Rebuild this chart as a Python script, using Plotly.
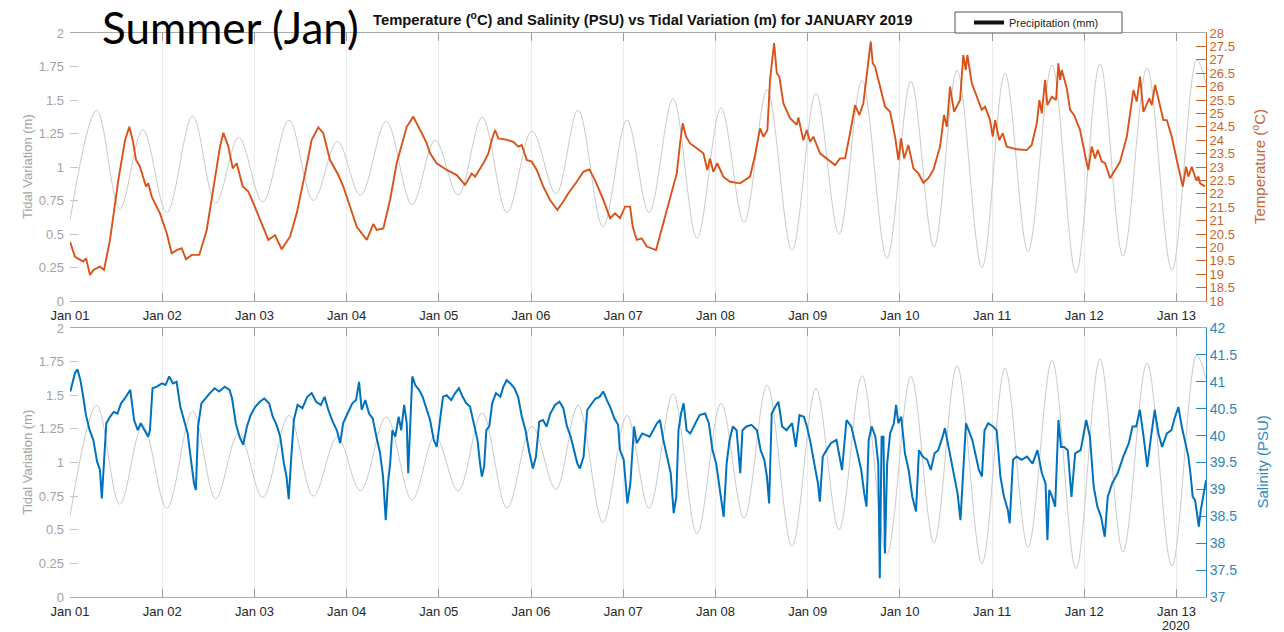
import pandas as pd
import plotly.graph_objects as go

START = pd.Timestamp("2020-01-01")

# Tide (m): successive high / low water, days after Jan 01 00:00
tide_day = [0.00, 0.29, 0.54, 0.79, 1.05, 1.33, 1.58, 1.83, 2.09, 2.375,
            2.64, 2.90, 3.15, 3.43, 3.71, 3.96, 4.21, 4.47, 4.74, 5.01,
            5.27, 5.51, 5.78, 6.04, 6.28, 6.54, 6.80, 7.06, 7.31, 7.56,
            7.83, 8.09, 8.34, 8.59, 8.86, 9.12, 9.37, 9.62, 9.89, 10.14,
            10.39, 10.65, 10.91, 11.17, 11.42, 11.68, 11.95, 12.22, 12.32]
tide_m = [0.60, 1.425, 0.69, 1.28, 0.66, 1.38, 0.73, 1.22, 0.74, 1.35,
          0.75, 1.19, 0.79, 1.34, 0.72, 1.20, 0.79, 1.37, 0.66, 1.27,
          0.80, 1.425, 0.555, 1.35, 0.66, 1.51, 0.47, 1.44, 0.585, 1.575,
          0.38, 1.55, 0.50, 1.645, 0.32, 1.64, 0.405, 1.72, 0.25, 1.70,
          0.37, 1.76, 0.21, 1.77, 0.335, 1.74, 0.23, 1.80, 1.62]

# Water temperature (deg C)
temp_day = [0.000, 0.054, 0.144, 0.174, 0.217, 0.253, 0.325, 0.369, 0.434, 0.524,
            0.597, 0.643, 0.680, 0.716, 0.759, 0.824, 0.849, 0.886, 0.976, 1.049,
            1.103, 1.157, 1.211, 1.258, 1.320, 1.402, 1.483, 1.554, 1.627, 1.663,
            1.717, 1.765, 1.808, 1.873, 1.934, 1.988, 2.061, 2.151, 2.223, 2.248,
            2.296, 2.386, 2.459, 2.549, 2.621, 2.693, 2.747, 2.820, 2.910, 2.964,
            3.037, 3.110, 3.218, 3.290, 3.326, 3.398, 3.471, 3.543, 3.652, 3.723,
            3.815, 3.869, 3.905, 3.977, 4.086, 4.194, 4.284, 4.357, 4.393, 4.483,
            4.537, 4.574, 4.610, 4.645, 4.718, 4.808, 4.862, 4.899, 4.953, 5.008,
            5.062, 5.133, 5.206, 5.285, 5.350, 5.405, 5.496, 5.567, 5.632, 5.694,
            5.784, 5.857, 5.911, 5.965, 6.020, 6.074, 6.103, 6.146, 6.201, 6.255,
            6.356, 6.435, 6.526, 6.580, 6.616, 6.645, 6.681, 6.725, 6.797, 6.869,
            6.912, 6.941, 6.977, 7.020, 7.085, 7.158, 7.267, 7.375, 7.430, 7.484,
            7.520, 7.563, 7.592, 7.636, 7.665, 7.693, 7.736, 7.809, 7.882, 7.899,
            7.953, 7.990, 8.026, 8.062, 8.134, 8.207, 8.297, 8.351, 8.406, 8.460,
            8.514, 8.561, 8.604, 8.658, 8.684, 8.706, 8.731, 8.785, 8.839, 8.894,
            8.948, 8.984, 9.013, 9.046, 9.092, 9.147, 9.201, 9.255, 9.309, 9.363,
            9.436, 9.479, 9.509, 9.544, 9.588, 9.653, 9.688, 9.715, 9.732, 9.780,
            9.834, 9.888, 9.924, 9.978, 10.007, 10.033, 10.079, 10.116, 10.159, 10.268,
            10.376, 10.430, 10.485, 10.513, 10.539, 10.575, 10.600, 10.648, 10.694, 10.719,
            10.738, 10.756, 10.810, 10.846, 10.889, 10.954, 11.020, 11.044, 11.081, 11.117,
            11.146, 11.190, 11.226, 11.280, 11.388, 11.461, 11.533, 11.569, 11.605, 11.641,
            11.706, 11.732, 11.768, 11.822, 11.858, 11.895, 11.949, 12.003, 12.068, 12.104,
            12.129, 12.166, 12.213, 12.238, 12.256, 12.310]
temp_c = [20.21, 19.65, 19.47, 19.59, 18.97, 19.16, 19.28, 19.16, 20.28, 22.51,
          24.00, 24.50, 24.00, 23.26, 23.01, 22.27, 22.39, 21.89, 21.27, 20.53,
          19.78, 19.90, 19.97, 19.56, 19.72, 19.72, 20.65, 22.27, 23.76, 24.28,
          23.76, 22.95, 23.14, 22.27, 22.08, 21.65, 21.02, 20.28, 20.46, 20.28,
          19.93, 20.40, 21.27, 22.76, 24.01, 24.48, 24.26, 23.26, 22.70, 22.27,
          21.52, 20.77, 20.28, 20.87, 20.65, 20.71, 21.77, 23.14, 24.50, 24.88,
          24.26, 23.88, 23.51, 23.14, 22.89, 22.70, 22.33, 22.76, 22.64, 23.14,
          23.51, 24.01, 24.38, 24.07, 24.03, 23.94, 23.76, 23.82, 23.26, 23.20,
          22.89, 22.27, 21.77, 21.40, 21.71, 22.02, 22.45, 22.82, 22.91, 22.51,
          21.77, 21.09, 21.27, 21.09, 21.52, 21.52, 20.77, 20.28, 20.34, 20.03,
          19.90, 20.90, 22.02, 22.76, 23.88, 24.63, 24.13, 23.88, 23.70, 23.51,
          22.89, 23.32, 22.82, 23.14, 22.64, 22.45, 22.39, 22.64, 23.45, 24.44,
          24.13, 24.38, 26.25, 27.62, 26.50, 26.37, 25.38, 24.82, 24.57, 24.85,
          24.00, 24.38, 23.94, 24.13, 23.51, 23.32, 23.07, 23.32, 23.32, 24.26,
          25.31, 24.94, 25.38, 26.93, 27.68, 26.87, 26.74, 26.00, 25.25, 25.06,
          24.13, 23.26, 24.07, 23.32, 23.82, 22.95, 22.76, 22.41, 22.58, 22.89,
          23.76, 24.94, 24.50, 26.00, 25.06, 25.50, 27.18, 26.62, 27.18, 26.12,
          25.62, 25.13, 25.25, 24.75, 24.13, 24.75, 24.00, 24.26, 23.76, 23.66,
          23.63, 23.82, 24.63, 25.50, 25.00, 26.25, 25.31, 25.62, 25.50, 26.87,
          26.25, 26.62, 25.94, 25.13, 24.94, 24.38, 23.26, 22.89, 23.76, 23.32,
          23.63, 23.20, 23.14, 22.58, 23.20, 24.13, 25.87, 25.44, 26.37, 25.06,
          25.56, 25.31, 26.06, 25.25, 24.75, 24.75, 24.13, 23.26, 22.27, 23.01,
          22.64, 23.01, 22.51, 22.64, 22.39, 22.27]

# Salinity (PSU)
sal_day = [0.004, 0.053, 0.081, 0.113, 0.141, 0.173, 0.213, 0.253, 0.293, 0.325,
           0.345, 0.366, 0.394, 0.434, 0.474, 0.514, 0.554, 0.594, 0.654, 0.695,
           0.735, 0.767, 0.807, 0.847, 0.867, 0.895, 0.943, 0.996, 1.036, 1.076,
           1.116, 1.156, 1.196, 1.236, 1.276, 1.317, 1.345, 1.365, 1.389, 1.425,
           1.465, 1.517, 1.569, 1.617, 1.678, 1.730, 1.758, 1.798, 1.838, 1.878,
           1.919, 1.959, 2.011, 2.059, 2.107, 2.159, 2.199, 2.240, 2.280, 2.320,
           2.348, 2.372, 2.400, 2.428, 2.468, 2.520, 2.573, 2.621, 2.669, 2.721,
           2.761, 2.801, 2.849, 2.894, 2.930, 2.962, 3.010, 3.062, 3.102, 3.135,
           3.163, 3.203, 3.243, 3.283, 3.323, 3.363, 3.395, 3.424, 3.448, 3.472,
           3.496, 3.528, 3.564, 3.592, 3.624, 3.652, 3.668, 3.688, 3.712, 3.744,
           3.785, 3.825, 3.865, 3.905, 3.945, 3.977, 4.009, 4.045, 4.085, 4.134,
           4.178, 4.218, 4.258, 4.298, 4.338, 4.379, 4.419, 4.447, 4.467, 4.491,
           4.515, 4.547, 4.579, 4.619, 4.667, 4.700, 4.736, 4.776, 4.820, 4.860,
           4.900, 4.940, 4.980, 5.020, 5.053, 5.089, 5.129, 5.169, 5.209, 5.261,
           5.309, 5.350, 5.390, 5.430, 5.470, 5.502, 5.530, 5.570, 5.610, 5.651,
           5.699, 5.743, 5.783, 5.823, 5.863, 5.903, 5.944, 5.965, 6.005, 6.045,
           6.077, 6.117, 6.146, 6.206, 6.286, 6.366, 6.398, 6.435, 6.475, 6.515,
           6.547, 6.575, 6.599, 6.627, 6.655, 6.687, 6.727, 6.768, 6.828, 6.888,
           6.928, 6.968, 7.008, 7.048, 7.089, 7.121, 7.153, 7.189, 7.229, 7.269,
           7.293, 7.337, 7.390, 7.450, 7.490, 7.530, 7.558, 7.582, 7.610, 7.650,
           7.683, 7.723, 7.771, 7.831, 7.871, 7.911, 7.959, 7.992, 8.032, 8.072,
           8.112, 8.132, 8.164, 8.204, 8.252, 8.312, 8.373, 8.421, 8.473, 8.533,
           8.581, 8.613, 8.638, 8.662, 8.694, 8.734, 8.766, 8.782, 8.802, 8.822,
           8.838, 8.862, 8.894, 8.935, 8.959, 8.983, 9.015, 9.055, 9.095, 9.135,
           9.175, 9.207, 9.247, 9.296, 9.336, 9.376, 9.416, 9.464, 9.488, 9.528,
           9.577, 9.625, 9.657, 9.689, 9.717, 9.745, 9.785, 9.825, 9.857, 9.890,
           9.918, 9.958, 10.010, 10.050, 10.090, 10.130, 10.171, 10.191, 10.227, 10.267,
           10.319, 10.379, 10.439, 10.492, 10.540, 10.580, 10.600, 10.620, 10.652, 10.684,
           10.720, 10.748, 10.781, 10.821, 10.861, 10.901, 10.961, 11.021, 11.061, 11.102,
           11.142, 11.182, 11.222, 11.254, 11.302, 11.362, 11.423, 11.483, 11.523, 11.563,
           11.603, 11.643, 11.683, 11.724, 11.764, 11.804, 11.844, 11.896, 11.944, 11.984,
           12.021, 12.057, 12.093, 12.129, 12.155, 12.176, 12.202, 12.227, 12.242, 12.264,
           12.292, 12.321]
sal_psu = [40.82, 41.16, 41.23, 41.03, 40.75, 40.38, 40.10, 39.92, 39.52, 39.36,
           38.83, 39.48, 40.23, 40.35, 40.44, 40.41, 40.60, 40.69, 40.85, 40.29,
           40.10, 40.23, 40.10, 39.98, 40.10, 40.88, 40.91, 40.97, 40.94, 41.10,
           40.97, 41.00, 40.54, 40.29, 40.04, 39.48, 39.11, 38.99, 40.17, 40.60,
           40.69, 40.79, 40.88, 40.82, 40.91, 40.85, 40.69, 40.23, 39.98, 39.83,
           40.17, 40.38, 40.54, 40.63, 40.69, 40.60, 40.35, 40.20, 39.98, 39.48,
           39.24, 38.82, 39.61, 40.29, 40.57, 40.51, 40.72, 40.79, 40.63, 40.57,
           40.72, 40.48, 40.26, 40.10, 39.86, 40.23, 40.41, 40.60, 40.66, 41.00,
           40.48, 40.66, 40.41, 40.32, 39.98, 39.67, 39.24, 38.43, 39.11, 39.48,
           40.10, 39.98, 40.35, 40.10, 40.57, 40.23, 39.30, 40.10, 41.10, 40.94,
           40.85, 40.72, 40.48, 40.29, 39.92, 39.79, 40.23, 40.72, 40.75, 40.66,
           40.79, 40.88, 40.72, 40.60, 40.54, 40.20, 39.92, 39.48, 39.24, 39.42,
           40.10, 40.17, 40.60, 40.79, 40.72, 40.91, 41.03, 40.97, 40.88, 40.72,
           40.35, 40.10, 39.70, 39.39, 39.61, 40.26, 40.29, 40.17, 40.41, 40.57,
           40.63, 40.51, 40.17, 39.98, 39.67, 39.48, 39.39, 39.61, 40.48, 40.57,
           40.69, 40.72, 40.82, 40.66, 40.51, 40.32, 40.20, 39.73, 39.55, 38.74,
           39.11, 40.17, 39.86, 40.04, 39.98, 40.23, 40.29, 39.92, 39.61, 39.30,
           38.56, 38.86, 40.10, 40.41, 40.60, 40.10, 40.04, 40.17, 40.38, 40.41,
           40.23, 39.73, 39.48, 38.99, 38.49, 39.48, 39.92, 40.17, 40.10, 39.30,
           40.10, 40.17, 40.20, 40.10, 39.73, 39.55, 39.24, 38.74, 40.41, 40.54,
           40.63, 40.17, 40.10, 40.23, 39.79, 40.38, 40.35, 40.17, 39.86, 39.48,
           39.11, 38.77, 39.61, 39.73, 39.86, 39.92, 39.36, 40.29, 40.17, 39.73,
           39.36, 38.93, 38.68, 39.92, 40.17, 39.98, 39.48, 37.35, 39.98, 39.98,
           37.81, 39.48, 40.04, 40.23, 40.57, 40.23, 40.35, 39.67, 39.36, 38.86,
           38.59, 39.73, 39.61, 39.55, 39.36, 39.67, 39.73, 39.98, 40.14, 39.79,
           39.36, 38.93, 38.43, 39.36, 40.23, 40.10, 39.92, 39.61, 39.36, 39.24,
           40.10, 40.23, 40.17, 40.10, 39.24, 38.86, 38.62, 38.37, 39.55, 39.61,
           39.55, 39.61, 39.48, 39.73, 39.30, 39.11, 38.06, 38.99, 38.86, 38.68,
           40.29, 39.79, 39.79, 39.73, 38.86, 39.67, 39.73, 40.29, 39.98, 39.05,
           38.68, 38.49, 38.12, 38.86, 39.11, 39.30, 39.61, 39.86, 40.17, 40.17,
           40.48, 39.98, 39.42, 39.98, 40.48, 40.04, 39.79, 40.04, 40.10, 40.35,
           40.53, 40.17, 39.86, 39.61, 39.24, 38.86, 38.80, 38.49, 38.31, 38.62,
           38.93, 39.17]

# Precipitation (mm): no reading in the period, only its legend entry is drawn
precip_day = [0.0]
precip_mm = [None]

X_END_DAY = 12.32


def to_time(days):
    return [START + pd.Timedelta(days=float(d)) for d in days]


W, H = 1284, 632
X0, X1 = 70, 1206            # plot area, px
TOP = (33, 301)              # upper panel, px from top
BOT = (328, 597)             # lower panel, px from top
LEG_BOX = (955, 12, 1122, 33)  # legend frame: x0, y0, x1, y1 in px


def fy(px):
    return 1 - px / H


TIDE_C = "#cacaca"
TEMP_C = "#D95319"
TEMP_AX = "#c8662e"
SAL_C = "#0072BD"
SAL_AX = "#2f86bd"
GRAY_T = "#a3a3a3"
FONT = "Liberation Sans, Arial, sans-serif"

fig = go.Figure()

# upper panel: tide + temperature
fig.add_trace(go.Scatter(x=to_time(tide_day), y=tide_m, mode="lines",
                         line=dict(color=TIDE_C, width=1, shape="spline", smoothing=1.0),
                         xaxis="x", yaxis="y", showlegend=False, hoverinfo="skip"))
fig.add_trace(go.Scatter(x=to_time(temp_day), y=temp_c, mode="lines",
                         line=dict(color=TEMP_C, width=1.9),
                         xaxis="x", yaxis="y2", showlegend=False))
fig.add_trace(go.Scatter(x=to_time(precip_day), y=precip_mm, mode="lines",
                         name="Precipitation (mm)", line=dict(color="#111111", width=4),
                         xaxis="x", yaxis="y", showlegend=True))

# lower panel: tide + salinity
fig.add_trace(go.Scatter(x=to_time(tide_day), y=tide_m, mode="lines",
                         line=dict(color=TIDE_C, width=1, shape="spline", smoothing=1.0),
                         xaxis="x2", yaxis="y3", showlegend=False, hoverinfo="skip"))
fig.add_trace(go.Scatter(x=to_time(sal_day), y=sal_psu, mode="lines",
                         line=dict(color=SAL_C, width=2),
                         xaxis="x2", yaxis="y4", showlegend=False))

x_range = [START, START + pd.Timedelta(days=X_END_DAY)]
xdom = [X0 / W, X1 / W]

xcommon = dict(type="date", range=x_range, domain=xdom, tickformat="%b %d",
               tick0=START, dtick=86400000, ticks="inside", ticklen=8,
               tickcolor="#9c9c9c", showline=True, linecolor="#aaaaaa", linewidth=1,
               mirror="ticks", showgrid=True, gridcolor="#ececec", gridwidth=1,
               zeroline=False, automargin=False, ticklabelstandoff=2,
               tickfont=dict(family=FONT, size=13, color="#262626"))

ytide = dict(range=[0, 2], dtick=0.25, tick0=0, ticks="inside", ticklen=8,
             tickcolor="#c4c4c4", showline=False, showgrid=False, zeroline=False,
             automargin=False, ticklabelstandoff=5,
             tickfont=dict(family=FONT, size=13, color=GRAY_T))

fig.update_layout(
    width=W, height=H,
    margin=dict(l=0, r=0, t=0, b=0, autoexpand=False),
    paper_bgcolor="white", plot_bgcolor="white",
    font=dict(family=FONT),
    showlegend=True,
    xaxis=dict(xcommon, anchor="y"),
    xaxis2=dict(xcommon, anchor="y3", matches="x"),
    yaxis=dict(ytide, domain=[fy(TOP[1]), fy(TOP[0])], anchor="x"),
    yaxis2=dict(range=[18, 28], dtick=0.5, tick0=18, overlaying="y", side="right",
                anchor="x", ticks="inside", ticklen=10, tickcolor=TEMP_AX,
                showline=True, linecolor=TEMP_AX, linewidth=1, showgrid=False,
                zeroline=False, automargin=False,
                tickfont=dict(family=FONT, size=13, color=TEMP_AX)),
    yaxis3=dict(ytide, domain=[fy(BOT[1]), fy(BOT[0])], anchor="x2"),
    yaxis4=dict(range=[37, 42], dtick=0.5, tick0=37, overlaying="y3", side="right",
                anchor="x2", ticks="inside", ticklen=10, tickcolor=SAL_AX,
                showline=True, linecolor=SAL_AX, linewidth=1, showgrid=False,
                zeroline=False, automargin=False,
                tickfont=dict(family=FONT, size=14, color=SAL_AX)),
    legend=dict(x=969 / W, y=fy((LEG_BOX[1] + LEG_BOX[3]) / 2), xanchor="left",
                yanchor="middle", bgcolor="rgba(0,0,0,0)", borderwidth=0,
                font=dict(family=FONT, size=11, color="#222222"),
                itemwidth=30, tracegroupgap=0),
    shapes=[dict(type="rect", xref="paper", yref="paper",
                 x0=LEG_BOX[0] / W, x1=LEG_BOX[2] / W,
                 y0=fy(LEG_BOX[3]), y1=fy(LEG_BOX[1]),
                 line=dict(color="#555555", width=1), fillcolor="white",
                 layer="above")],
)

annotations = [
    dict(text="Summer (Jan)", x=100 / W, y=fy(27), xref="paper", yref="paper",
         xanchor="left", yanchor="middle", showarrow=False,
         font=dict(family="Lato, Calibri, sans-serif", size=44, color="#000000")),
    dict(text="<b>Temperature (<sup>o</sup>C) and Salinity (PSU) vs Tidal Variation (m) for JANUARY 2019</b>",
         x=642 / W, y=fy(19), xref="paper", yref="paper", xanchor="center",
         yanchor="middle", showarrow=False,
         font=dict(family=FONT, size=14.8, color="#111111")),
    dict(text="Tidal Variation (m)", x=27 / W, y=fy((TOP[0] + TOP[1]) / 2),
         xref="paper", yref="paper", textangle=-90, showarrow=False,
         xanchor="center", yanchor="middle",
         font=dict(family=FONT, size=13, color=GRAY_T)),
    dict(text="Tidal Variation (m)", x=27 / W, y=fy((BOT[0] + BOT[1]) / 2),
         xref="paper", yref="paper", textangle=-90, showarrow=False,
         xanchor="center", yanchor="middle",
         font=dict(family=FONT, size=13, color=GRAY_T)),
    dict(text="Temperature (<sup>o</sup>C)", x=1258 / W, y=fy((TOP[0] + TOP[1]) / 2),
         xref="paper", yref="paper", textangle=-90, showarrow=False,
         xanchor="center", yanchor="middle",
         font=dict(family=FONT, size=15, color=TEMP_AX)),
    dict(text="Salinity (PSU)", x=1262 / W, y=fy((BOT[0] + BOT[1]) / 2),
         xref="paper", yref="paper", textangle=-90, showarrow=False,
         xanchor="center", yanchor="middle",
         font=dict(family=FONT, size=15, color=SAL_AX)),
    dict(text="2020", x=START + pd.Timedelta(days=12), y=fy(626), xref="x2", yref="paper",
         xanchor="center", yanchor="middle", showarrow=False,
         font=dict(family=FONT, size=12.5, color="#262626")),
]
fig.update_layout(annotations=annotations)

fig.write_html("out.html")
